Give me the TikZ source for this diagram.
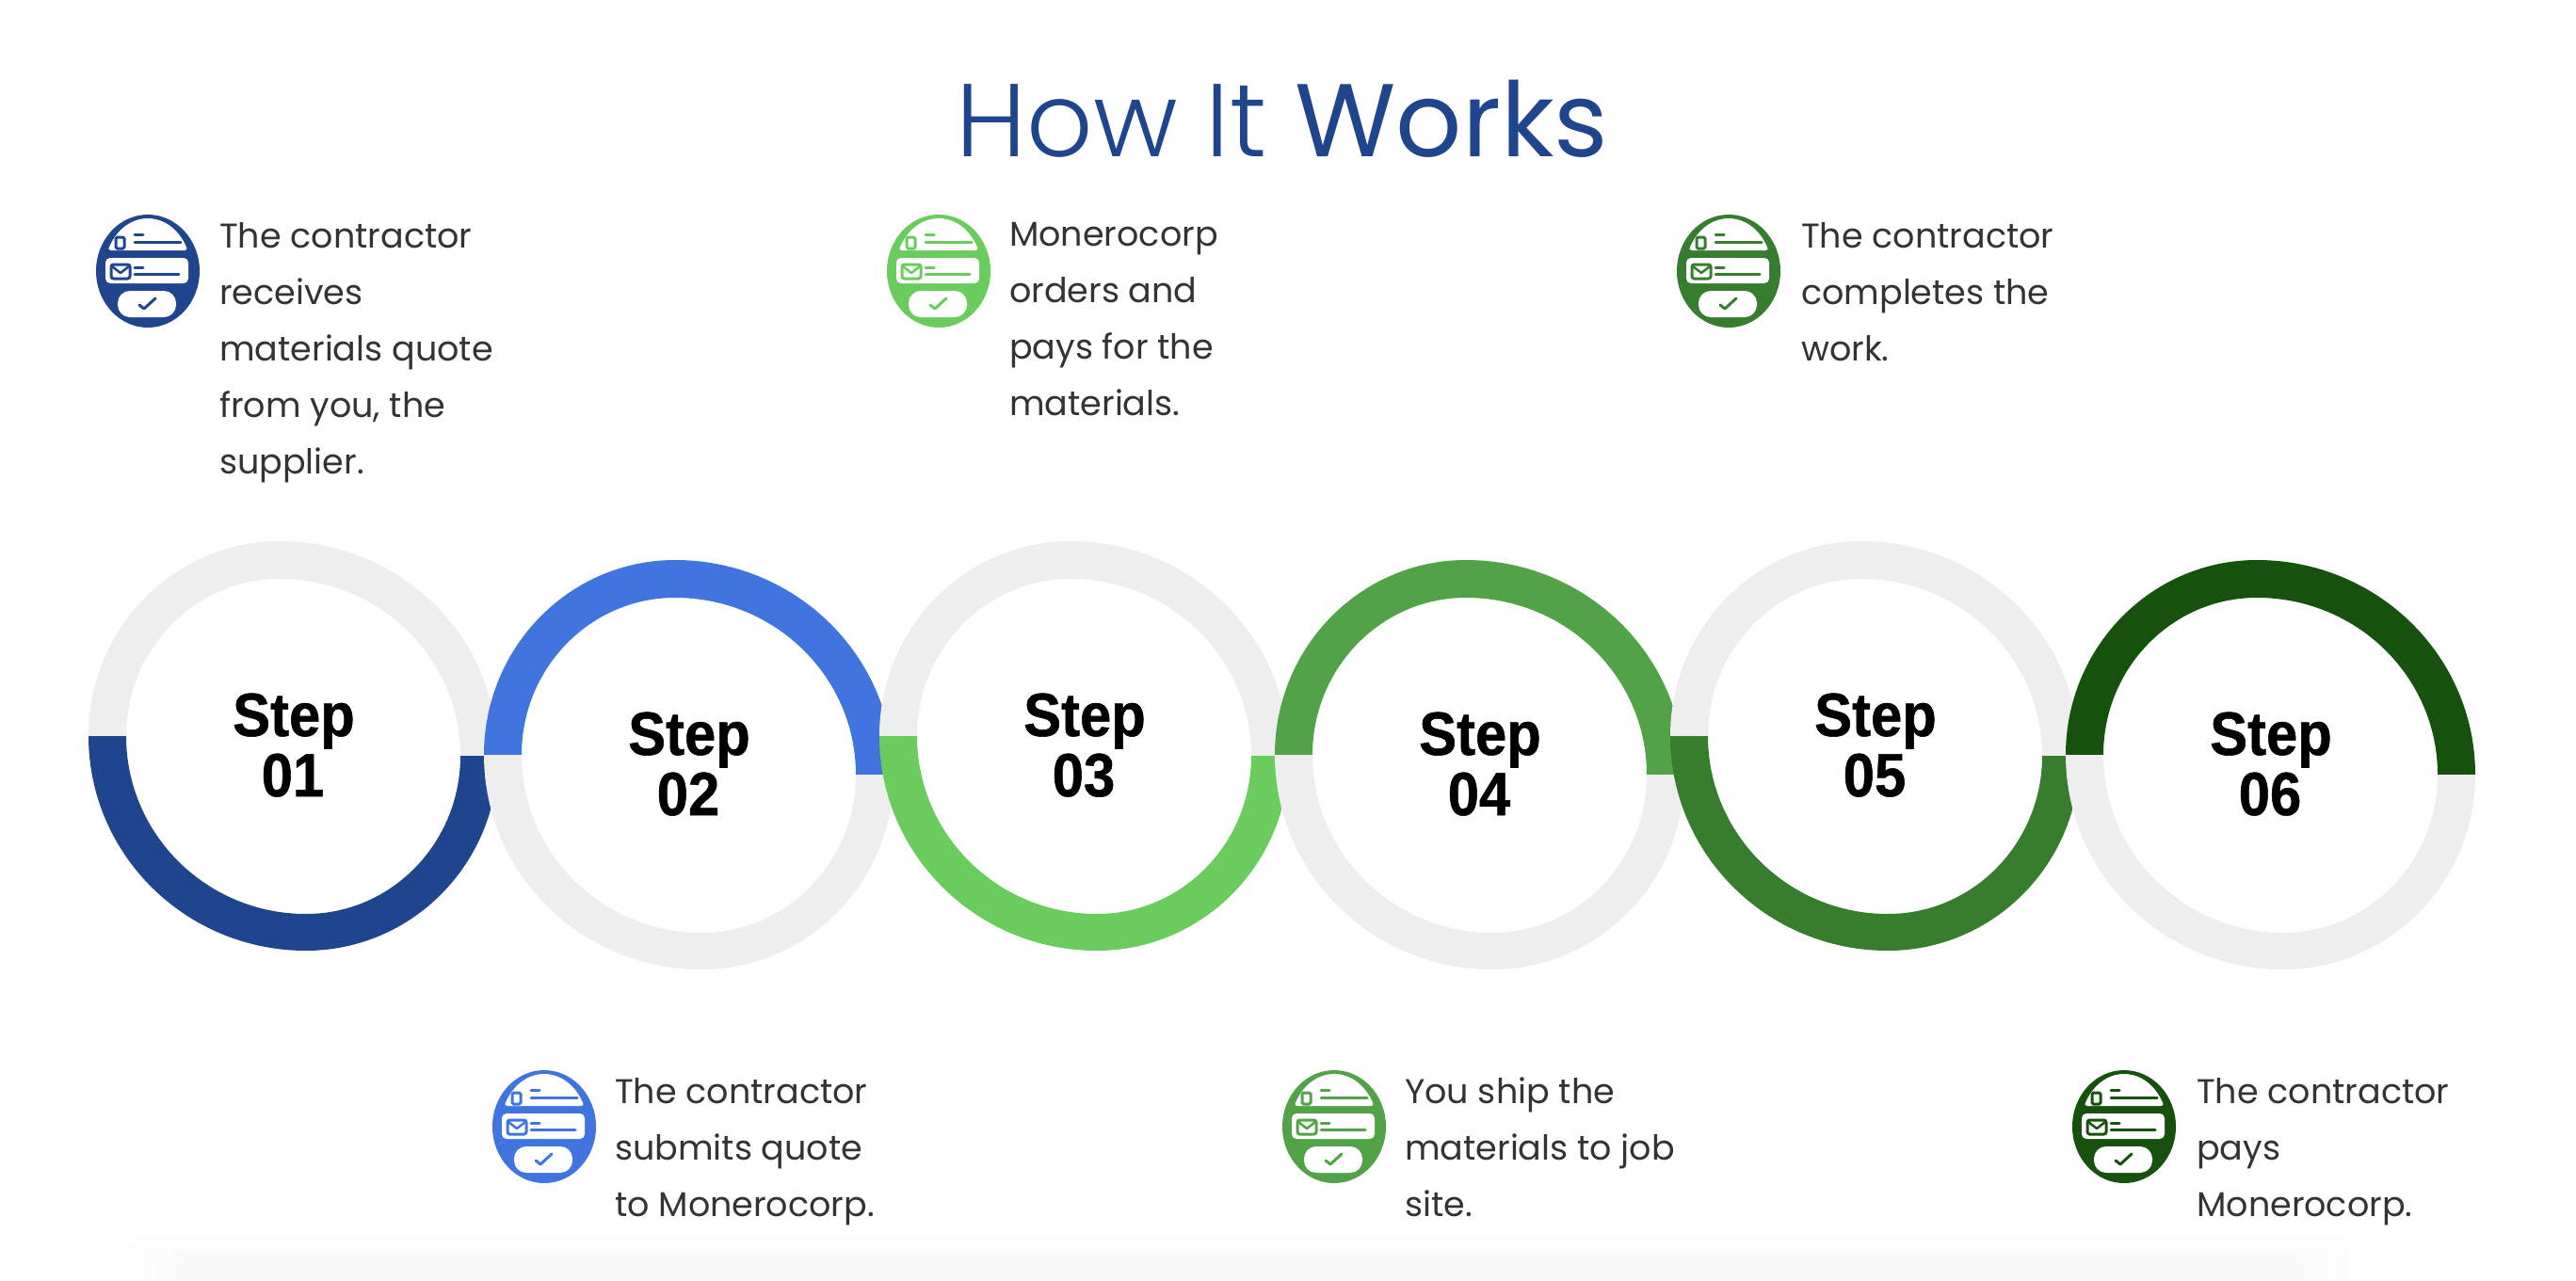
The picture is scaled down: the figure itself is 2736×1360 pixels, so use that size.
\documentclass[tikz,border=0pt]{standalone}
\usepackage{fontspec}
\setmainfont{Poppins}
\newfontfamily\titlelight{Poppins Light}
\newfontfamily\titlemed{Poppins}
\newfontfamily\stepfont{Liberation Sans}[FakeStretch=0.92,BoldFeatures={FakeBold=0.8}]
\definecolor{cnavy}{HTML}{1F458E}
\definecolor{cblue}{HTML}{4075E0}
\definecolor{clime}{HTML}{69CC5D}
\definecolor{cmid}{HTML}{52A348}
\definecolor{cforest}{HTML}{367D2D}
\definecolor{cdark}{HTML}{16510E}
\definecolor{cgrey}{HTML}{EEEEEE}
\definecolor{ctext}{HTML}{333333}
\tikzset{
  x=1pt,y=1pt,
  desc/.style={anchor=north west,inner sep=0pt,align=left,text=ctext,font=\fontsize{36.5}{60}\selectfont},
  steplabel/.style={anchor=base,inner sep=0pt,font=\stepfont\bfseries\fontsize{65}{65}\selectfont,text=black},
  iconmark/.style={line width=3pt,line cap=round,line join=round},
}
% origin: left outer end of the top half
\newcommand{\ringshape}[3]{%
\begin{scope}[shift={(#1,#2)}]
  \fill[white] (40,0) arc[start angle=180,end angle=90,x radius=163pt,y radius=167pt]
     arc[start angle=90,end angle=0,x radius=192pt,y radius=188pt]
     arc[start angle=0,end angle=-90,x radius=164pt,y radius=168pt]
     arc[start angle=-90,end angle=-180,x radius=191pt,y radius=189pt] -- cycle;
  \fill[#3] (0,0) arc[start angle=180,end angle=90,x radius=203pt,y radius=207pt]
     arc[start angle=90,end angle=0,x radius=232pt,y radius=228pt]
     -- (395,-21) arc[start angle=0,end angle=90,x radius=192pt,y radius=188pt]
     arc[start angle=90,end angle=180,x radius=163pt,y radius=167pt] -- cycle;
}
\newcommand{\ringend}[1]{%
  \fill[#1] (0,0) arc[start angle=180,end angle=270,x radius=231pt,y radius=228pt]
     arc[start angle=270,end angle=360,x radius=204pt,y radius=207pt]
     -- (395,-21) arc[start angle=0,end angle=-90,x radius=164pt,y radius=168pt]
     arc[start angle=-90,end angle=-180,x radius=191pt,y radius=189pt] -- cycle;
\end{scope}}
\newcommand{\stepicon}[3]{%
\begin{scope}[shift={(#1,#2)}]
  \fill[#3] (0,0) ellipse[x radius=55pt,y radius=60pt];
  \begin{scope}
    \clip (0,0) ellipse[x radius=46pt,y radius=56pt];
    \fill[white,rounded corners=3pt] (-42,22) rectangle (42,60);
  \end{scope}
  \fill[white,rounded corners=5pt] (-45,-13) rectangle (43,14);
  \fill[white,rounded corners=13pt] (-32,-49) rectangle (30,-21);
  \draw[#3,line width=3pt,rounded corners=1.5pt] (-34,24) rectangle (-25,36);
  \draw[#3,iconmark] (-14,39) -- (-5,39) (-14,31) -- (35,31);
  \draw[#3,line width=3pt,rounded corners=2.5pt] (-39,-8) rectangle (-19,7);
  \draw[#3,line width=2.5pt,line join=round] (-38,5) -- (-29,-2) -- (-20,5);
  \draw[#3,iconmark] (-14,4) -- (-5,4) (-14,-3) -- (33,-3);
  \draw[#3,iconmark] (-9,-36) -- (-4,-40) -- (8,-29);
\end{scope}}
\begin{document}
\begin{tikzpicture}
\useasboundingbox (0,0) rectangle (2736,-1360);
\fill[white] (0,0) rectangle (2736,-1360);
% faint shadow at the foot
\foreach \i in {0,...,9}{
  \pgfmathsetmacro{\shade}{0.3+\i*0.32}
  \fill[black!\shade!white,rounded corners=16pt] (130+\i*9,-1310-\i*5) -- (130+\i*9,-1400) -- (2500-\i*9,-1400) -- (2500-\i*9,-1310-\i*5) -- cycle;
}
\fill[white] (0,-1360) rectangle (2736,-1410);
% title
\node[anchor=base,inner sep=0pt,text=cnavy,font=\fontsize{110}{110}\selectfont] (title) at (1362,-166) {{\titlelight How It }{\titlemed Works}};
% rings, left to right so each lies over the one before
\ringshape{94}{-782}{cgrey}\ringend{cnavy}
\ringshape{514}{-802}{cblue}\ringend{cgrey}
\ringshape{934}{-782}{cgrey}\ringend{clime}
\ringshape{1354}{-802}{cmid}\ringend{cgrey}
\ringshape{1774}{-782}{cgrey}\ringend{cforest}
\ringshape{2194}{-802}{cdark}\ringend{cgrey}
% step labels
\foreach \n/\x/\y/\t in {sa/312/-782/01,sb/732/-802/02,sc/1152/-782/03,sd/1572/-802/04,se/1992/-782/05,sf/2412/-802/06}{
  \node[steplabel] (\n1) at (\x,\y) {Step};
  \node[steplabel] (\n2) at (\x-1,\y-64) {\t};
}
% icons
\stepicon{157}{-288}{cnavy}
\stepicon{578}{-1197}{cblue}
\stepicon{997}{-288}{clime}
\stepicon{1417}{-1197}{cmid}
\stepicon{1836}{-288}{cforest}
\stepicon{2256}{-1197}{cdark}
% descriptions
\node[desc] (d1) at (233,-236) {The contractor\\receives\\materials quote\\from you, the\\supplier.};
\node[desc] (d2) at (653,-1145) {The contractor\\submits quote\\to Monerocorp.};
\node[desc] (d3) at (1072,-236) {Monerocorp\\orders and\\pays for the\\materials.};
\node[desc] (d4) at (1492,-1145) {You ship the\\materials to job\\site.};
\node[desc] (d5) at (1913,-236) {The contractor\\completes the\\work.};
\node[desc] (d6) at (2333,-1145) {The contractor\\pays\\Monerocorp.};
\end{tikzpicture}
\end{document}
